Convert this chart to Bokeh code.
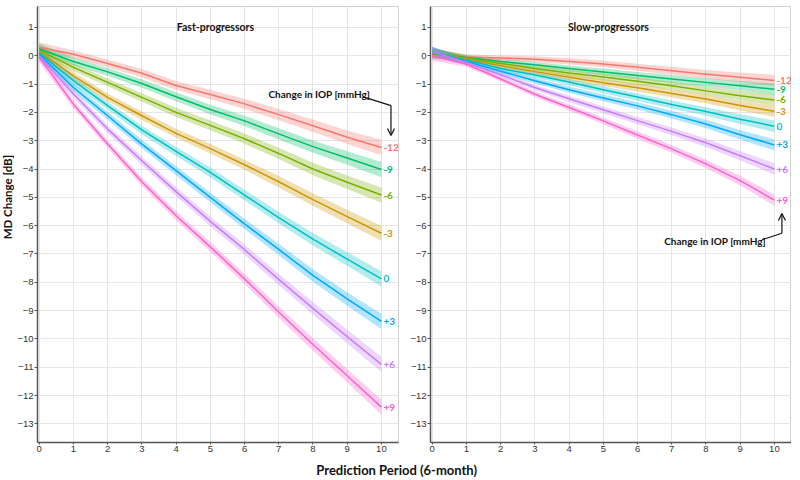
import math
from bokeh.plotting import figure
from bokeh.layouts import column, row
from bokeh.models import Range1d, Label, Arrow, OpenHead, FixedTicker, ColumnDataSource
from bokeh.embed import file_html
from bokeh.resources import INLINE
from bokeh.core.properties import value

# ---------------- data ----------------
period = [0, 1, 2, 3, 4, 5, 6, 7, 8, 9, 10]
iop_labels = ["-12", "-9", "-6", "-3", "0", "+3", "+6", "+9"]
colors = ["#F8766D", "#00BE67", "#7CAE00", "#CD9600", "#00BFC4", "#00A9FF", "#C77CFF", "#FF61CC"]

fast_m12 = [0.30, 0.05, -0.27, -0.62, -1.05, -1.37, -1.70, -2.08, -2.47, -2.88, -3.24]
fast_m9 = [0.25, -0.20, -0.57, -0.98, -1.45, -1.90, -2.30, -2.76, -3.21, -3.61, -4.02]
fast_m6 = [0.20, -0.41, -0.94, -1.47, -2.00, -2.46, -2.93, -3.45, -4.00, -4.47, -4.92]
fast_m3 = [0.15, -0.71, -1.47, -2.12, -2.74, -3.28, -3.85, -4.45, -5.08, -5.68, -6.27]
fast_0 = [0.10, -0.88, -1.76, -2.62, -3.38, -4.12, -4.92, -5.72, -6.48, -7.18, -7.88]
fast_p3 = [0.05, -1.12, -2.12, -3.12, -4.06, -5.00, -5.94, -6.84, -7.76, -8.59, -9.38]
fast_p6 = [0.00, -1.35, -2.59, -3.71, -4.80, -5.85, -6.85, -7.90, -8.92, -9.92, -10.90]
fast_p9 = [-0.05, -1.71, -3.12, -4.45, -5.65, -6.75, -7.88, -9.05, -10.20, -11.30, -12.41]
fast_ci = [0.18, 0.14, 0.14, 0.15, 0.16, 0.17, 0.18, 0.20, 0.22, 0.24, 0.27]

slow_m12 = [0.05, -0.04, -0.08, -0.12, -0.20, -0.29, -0.41, -0.53, -0.65, -0.76, -0.87]
slow_m9 = [0.08, -0.06, -0.20, -0.32, -0.45, -0.57, -0.70, -0.82, -0.94, -1.06, -1.18]
slow_m6 = [0.10, -0.08, -0.27, -0.45, -0.61, -0.75, -0.90, -1.06, -1.24, -1.41, -1.56]
slow_m3 = [0.12, -0.12, -0.35, -0.56, -0.76, -0.95, -1.13, -1.33, -1.53, -1.76, -1.96]
slow_0 = [0.13, -0.15, -0.45, -0.68, -0.93, -1.20, -1.46, -1.72, -1.97, -2.24, -2.49]
slow_p3 = [0.14, -0.20, -0.55, -0.88, -1.20, -1.49, -1.77, -2.08, -2.41, -2.79, -3.15]
slow_p6 = [0.15, -0.24, -0.67, -1.12, -1.52, -1.91, -2.29, -2.67, -3.07, -3.53, -4.00]
slow_p9 = [0.00, -0.30, -0.82, -1.36, -1.83, -2.30, -2.80, -3.29, -3.82, -4.41, -5.10]
slow_ci = [0.18, 0.09, 0.09, 0.10, 0.11, 0.12, 0.13, 0.14, 0.15, 0.17, 0.20]

y_ticks = list(range(-13, 2))
x_ticks = list(range(0, 11))

FONT = "Lato"
TICK_FONT = "Liberation Sans"
FRAME_W = 361
FRAME_H = 436
TOP = 6
BOTTOM = 18
FIG_H = TOP + FRAME_H + BOTTOM


def make_panel(title, series, ci, arrow_text_xy, arrow_pts, left_border, right_border):
    p = figure(frame_width=FRAME_W, frame_height=FRAME_H,
               x_range=Range1d(-0.05, 10.5), y_range=Range1d(-13.66, 1.74),
               output_backend="svg", toolbar_location=None,
               min_border_left=left_border, min_border_right=right_border,
               min_border_top=TOP, min_border_bottom=BOTTOM)
    p.background_fill_color = "white"
    p.outline_line_color = "#d0d0d0"
    p.outline_line_width = 1
    for ax in (p.xaxis[0], p.yaxis[0]):
        ax.axis_line_color = "#555555"
        ax.axis_line_width = 1.5
        ax.major_tick_line_color = "#555555"
        ax.major_tick_in = 0
        ax.minor_tick_out = 0
        ax.minor_tick_in = 0
        ax.major_label_text_font = TICK_FONT
        ax.major_label_text_font_size = "9.5px"
        ax.major_label_text_color = "#333333"
    p.yaxis.major_tick_out = 3
    p.yaxis.major_label_standoff = 1
    p.xaxis.major_tick_out = 2
    p.xaxis.major_label_standoff = 1
    p.xaxis.ticker = FixedTicker(ticks=x_ticks)
    p.yaxis.ticker = FixedTicker(ticks=y_ticks)
    p.xgrid.ticker = FixedTicker(ticks=x_ticks)
    p.ygrid.ticker = FixedTicker(ticks=y_ticks)
    p.xgrid.grid_line_color = "#e6e6e6"
    p.ygrid.grid_line_color = "#e6e6e6"

    for s, c in zip(series, colors):
        lower = [v - w for v, w in zip(s, ci)]
        upper = [v + w for v, w in zip(s, ci)]
        p.varea(x=period, y1=lower, y2=upper, fill_color=c, fill_alpha=0.3)
    for s, c in zip(series, colors):
        p.line(period, s, line_color=c, line_width=1.5)

    src = ColumnDataSource(dict(x=[period[-1]] * len(series), y=[s[-1] for s in series],
                                t=iop_labels, c=colors))
    p.text(x="x", y="y", text="t", text_color="c", source=src, x_offset=2,
           text_baseline="middle", text_align="left",
           text_font=value(FONT), text_font_style="bold", text_font_size="10px")

    p.add_layout(Label(x=5.15, y=1.0, text=title, text_align="center", text_baseline="middle",
                       text_font=FONT, text_font_style="bold", text_font_size="10.5px",
                       text_color="#111111"))
    tx, ty = arrow_text_xy
    p.add_layout(Label(x=tx, y=ty, text="Change in IOP [mmHg]", text_align="left",
                       text_baseline="middle", text_font=FONT, text_font_style="bold",
                       text_font_size="10px", text_color="#111111"))
    (x0, y0), (x1, y1), (x2, y2) = arrow_pts
    p.line([x0, x1], [y0, y1], line_color="#111111", line_width=1.2)
    p.add_layout(Arrow(x_start=x1, y_start=y1, x_end=x2, y_end=y2,
                       line_color="#111111", line_width=1.2,
                       end=OpenHead(size=7, line_width=1.2, line_color="#111111")))
    return p


p1 = make_panel("Fast-progressors",
                [fast_m12, fast_m9, fast_m6, fast_m3, fast_0, fast_p3, fast_p6, fast_p9],
                fast_ci, (6.7, -1.35), [(9.52, -1.47), (10.28, -1.76), (10.28, -2.82)],
                16, 7)
p2 = make_panel("Slow-progressors",
                [slow_m12, slow_m9, slow_m6, slow_m3, slow_0, slow_p3, slow_p6, slow_p9],
                slow_ci, (6.78, -6.53), [(9.64, -6.50), (10.22, -6.27), (10.22, -5.57)],
                25, 0)

# y-axis title strip
ylab = figure(width=14, height=FIG_H, x_range=Range1d(0, 1), y_range=Range1d(0, 1),
              output_backend="svg", toolbar_location=None, min_border=0,
              x_axis_location=None, y_axis_location=None)
ylab.grid.visible = False
ylab.outline_line_color = None
ylab.add_layout(Label(x=0.5, y=0.563, text="MD Change [dB]", angle=math.pi / 2,
                      text_align="center", text_baseline="middle", text_font=FONT,
                      text_font_style="bold", text_font_size="11.5px", text_color="#111111"))

# x-axis title strip
p3 = figure(width=786, height=20, x_range=Range1d(0, 1), y_range=Range1d(0, 1),
            output_backend="svg", toolbar_location=None, min_border=0,
            x_axis_location=None, y_axis_location=None)
p3.grid.visible = False
p3.outline_line_color = None
p3.add_layout(Label(x=0.504, y=0.55, text="Prediction Period (6-month)", text_align="center",
                    text_baseline="middle", text_font=FONT, text_font_style="bold",
                    text_font_size="13px", text_color="#111111"))

layout = column(row(ylab, p1, p2), p3)
open("out.html", "w").write(file_html(layout, INLINE))
